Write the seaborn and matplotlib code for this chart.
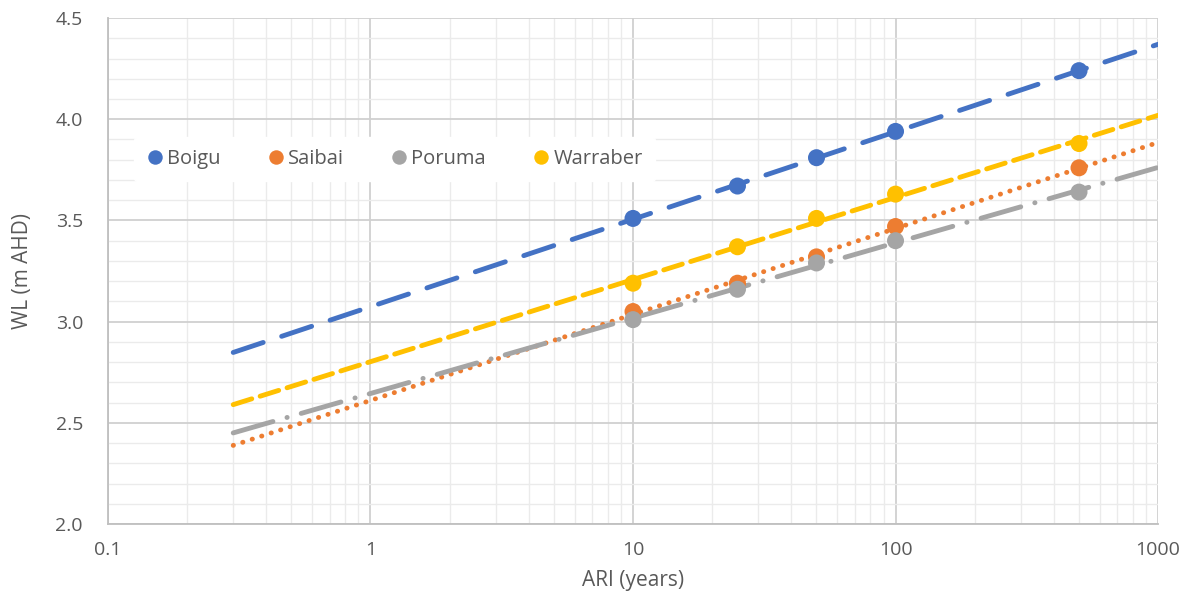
import numpy as np
import pandas as pd
import matplotlib
matplotlib.use("Agg")
import matplotlib.pyplot as plt
import seaborn as sns
from matplotlib.ticker import LogLocator, MultipleLocator, FixedLocator, FixedFormatter, NullFormatter

# ---- data ----
ari = [10, 25, 50, 100, 500]
boigu = [3.51, 3.67, 3.81, 3.94, 4.24]
saibai = [3.05, 3.19, 3.32, 3.47, 3.76]
poruma = [3.01, 3.16, 3.29, 3.40, 3.64]
warraber = [3.19, 3.37, 3.51, 3.63, 3.88]
sites = ["Boigu", "Saibai", "Poruma", "Warraber"]
xticks = [0.1, 1, 10, 100, 1000]
xticklabels = ["0.1", "1", "10", "100", "1000"]
yticklabels = ["2.0", "2.5", "3.0", "3.5", "4.0", "4.5"]

values = {"Boigu": boigu, "Saibai": saibai, "Poruma": poruma, "Warraber": warraber}
df = pd.DataFrame([{"ARI": a, "WL": v, "Site": s}
                   for s in sites for a, v in zip(ari, values[s])])

colors = {"Boigu": "#4472C4", "Saibai": "#ED7D31", "Poruma": "#A5A5A5", "Warraber": "#FFC000"}
dashes = {"Boigu": (6.5, 4.0), "Saibai": (0.05, 2.0), "Poruma": (8.5, 3.0, 0.05, 3.0),
          "Warraber": (4.0, 1.8)}

sns.set_theme(style="white")
plt.rcParams["font.family"] = ["Open Sans", "DejaVu Sans"]

fig = plt.figure(figsize=(11.93, 6.01), dpi=100)
ax = fig.add_axes([0.0905, 0.128, 0.8802, 0.842])

# trendlines (log fit), extended back to 0.3
xfit = np.logspace(np.log10(0.3), 3, 200)
for s in sites:
    k, b = np.polyfit(np.log10(ari), values[s], 1)
    yfit = k * np.log10(xfit) + b
    line, = ax.plot(xfit, yfit, color=colors[s], lw=3.5, zorder=2)
    line.set_dashes(dashes[s])
    line.set_dash_capstyle("round")

sns.scatterplot(data=df, x="ARI", y="WL", hue="Site", hue_order=sites, palette=colors,
                s=150, edgecolor="none", ax=ax, zorder=3, legend=True)

ax.set_xscale("log")
ax.set_xlim(0.1, 1000)
ax.set_ylim(2.0, 4.5)
ax.xaxis.set_major_locator(FixedLocator(xticks))
ax.xaxis.set_major_formatter(FixedFormatter(xticklabels))
ax.xaxis.set_minor_locator(LogLocator(base=10, subs=np.arange(2, 10)))
ax.xaxis.set_minor_formatter(NullFormatter())
ax.yaxis.set_major_locator(FixedLocator([2.0, 2.5, 3.0, 3.5, 4.0, 4.5]))
ax.yaxis.set_major_formatter(FixedFormatter(yticklabels))
ax.yaxis.set_minor_locator(MultipleLocator(0.1))

ax.grid(True, which="major", color="#d0d0d0", lw=1.3, zorder=0)
ax.grid(True, which="minor", color="#ebebeb", lw=1.0, zorder=0)
ax.set_axisbelow(True)
for side in ["top", "right"]:
    ax.spines[side].set_visible(False)
for side in ["left", "bottom"]:
    ax.spines[side].set_color("#bfbfbf")
    ax.spines[side].set_linewidth(1.3)

ax.tick_params(axis="x", which="both", length=0, labelsize=14, labelcolor="#595959", pad=12)
ax.tick_params(axis="y", which="both", length=0, labelsize=14, labelcolor="#595959", pad=18)
ax.set_xlabel("ARI (years)", fontsize=15, color="#595959", labelpad=8)
ax.set_ylabel("WL (m AHD)", fontsize=15, color="#595959", labelpad=16)

leg = ax.legend(loc="upper left", bbox_to_anchor=(0.015, 0.785), ncol=4, frameon=True,
                fontsize=14.5, handlelength=0.9, handletextpad=0.15, columnspacing=2.3,
                borderpad=0.6, markerscale=0.85)
leg.get_frame().set_facecolor("white")
leg.get_frame().set_edgecolor("white")
leg.get_frame().set_alpha(1.0)
for t in leg.get_texts():
    t.set_color("#595959")

fig.savefig("out.png", dpi=100, facecolor="white")
